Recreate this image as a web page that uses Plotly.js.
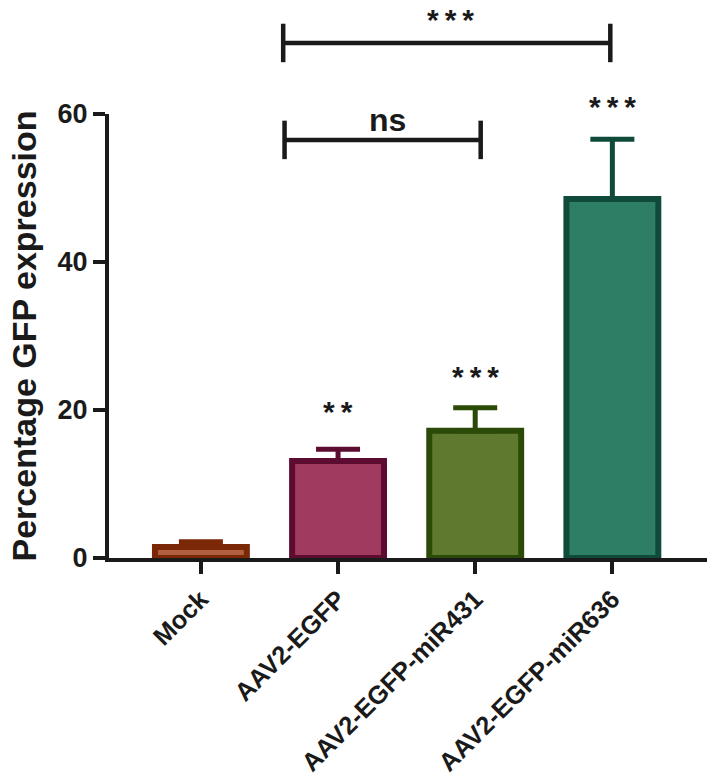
<!DOCTYPE html>
<html>
<head>
<meta charset="utf-8">
<script src="https://cdn.plot.ly/plotly-3.0.1.min.js"></script>
<style>html,body{margin:0;padding:0;background:#fff;}#chart{width:709px;height:782px;}</style>
</head>
<body>
<div id="chart"></div>
<script>
// ---- data ----
const categories = ["Mock", "AAV2-EGFP", "AAV2-EGFP-miR431", "AAV2-EGFP-miR636"];
const means = [1.5, 13.1, 17.2, 48.5];
const errorsUp = [0.7, 1.6, 3.1, 8.1];
const fillColors = ["#b0603f", "#a03b5f", "#5f7a2e", "#2e7e66"];
const lineColors = ["#7a2806", "#5c0c30", "#2b4a08", "#0f4a3a"];
const barStars = ["", "**", "***", "***"];
const barStarLevels = [0, 20.3, 25.1, 61.5];
const yTicks = [0, 20, 40, 60];
// significance brackets: [from category pos, to category pos, level, label]
const bracketFrom = [0.6, 0.61];
const bracketTo = [2.985, 2.04];
const bracketLevel = [69.6, 56.5];
const bracketLabel = ["***", "ns"];
const bracketLabelLevel = [75.3, 59.2];
const bracketLabelAnchor = ["top", "middle"];
const bracketLabelX = [1.82, 1.36];

const yMax = 60;
const xRange = [-0.67, 3.69];
const ink = "#1a1a1a";
const font = "Arial, 'Liberation Sans', sans-serif";
const thin = "\u2009";

const traces = categories.map((c, i) => ({
  type: "bar",
  x: [c],
  y: [means[i]],
  width: 0.67,
  marker: { color: fillColors[i], line: { color: lineColors[i], width: 6 } },
  error_y: { type: "data", symmetric: false, array: [errorsUp[i]], arrayminus: [0],
             color: lineColors[i], thickness: 5, width: 22 },
  showlegend: false,
  hoverinfo: "skip"
}));

const xPaper = v => (v - xRange[0]) / (xRange[1] - xRange[0]);
const yPaper = v => v / yMax;
const tickHalf = 2.6;
const starShift = -4;

const shapes = [];
const annotations = [];
bracketFrom.forEach((f, i) => {
  const t = bracketTo[i], lv = bracketLevel[i];
  const line = { color: ink, width: 4.5 };
  shapes.push({ type: "line", xref: "paper", yref: "paper", x0: xPaper(f), x1: xPaper(t), y0: yPaper(lv), y1: yPaper(lv), line });
  shapes.push({ type: "line", xref: "paper", yref: "paper", x0: xPaper(f), x1: xPaper(f), y0: yPaper(lv - tickHalf), y1: yPaper(lv + tickHalf), line });
  shapes.push({ type: "line", xref: "paper", yref: "paper", x0: xPaper(t), x1: xPaper(t), y0: yPaper(lv - tickHalf), y1: yPaper(lv + tickHalf), line });
  const isStar = bracketLabel[i].indexOf("*") >= 0;
  annotations.push({ xref: "paper", yref: "paper", x: xPaper(bracketLabelX[i]), y: yPaper(bracketLabelLevel[i]),
    xanchor: "center", yanchor: bracketLabelAnchor[i],
    text: isStar ? bracketLabel[i].split("").join(thin) : bracketLabel[i], showarrow: false,
    font: { family: font, size: isStar ? 30 : 32, color: ink, weight: "bold" } });
});
barStars.forEach((s, i) => {
  if (!s) return;
  annotations.push({ xref: "x", yref: "paper", x: categories[i], y: yPaper(barStarLevels[i]),
    xanchor: "center", yanchor: "middle",
    text: s.split("").join(thin), showarrow: false, yshift: starShift,
    font: { family: font, size: 30, color: ink, weight: "bold" } });
});

const layout = {
  width: 709, height: 782,
  margin: { l: 109, r: 2, t: 114, b: 224 },
  paper_bgcolor: "#fff", plot_bgcolor: "#fff",
  barmode: "overlay",
  font: { family: font, color: ink },
  xaxis: {
    type: "category", range: xRange, showgrid: false, zeroline: false,
    showline: true, linecolor: ink, linewidth: 4,
    ticks: "outside", ticklen: 12, tickwidth: 4, tickcolor: ink,
    tickangle: -45, tickfont: { family: font, size: 25.5, color: ink, weight: "bold" }
  },
  yaxis: {
    range: [0, yMax], tickvals: yTicks, ticktext: yTicks.map(String),
    showgrid: false, zeroline: false,
    showline: true, linecolor: ink, linewidth: 4,
    ticks: "outside", ticklen: 12, tickwidth: 4, tickcolor: ink,
    tickfont: { family: font, size: 27, color: ink, weight: "bold" },
    title: { text: "Percentage GFP expression", standoff: 12,
             font: { family: font, size: 34, color: ink, weight: "bold" } }
  },
  shapes, annotations
};

Plotly.newPlot("chart", traces, layout, { displayModeBar: false, staticPlot: true });
</script>
</body>
</html>
